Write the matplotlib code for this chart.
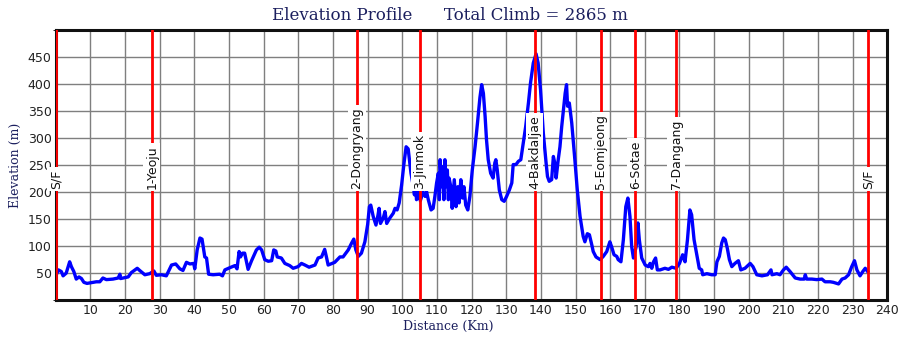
import matplotlib
matplotlib.use("Agg")
import matplotlib.pyplot as plt

# distance (km) and elevation (m)
dist = [0.0, 0.75, 1.6, 2.1, 3.0, 4.0, 4.5, 5.2, 5.9, 6.7, 7.4, 8.1, 9.0, 11.7, 12.7,
        13.6, 14.6, 16.5, 18.0, 18.5, 18.7, 20.9, 21.8, 23.5, 24.2, 25.7, 27.1, 28.3,
        29.0, 30.5, 31.9, 33.4, 34.6, 35.8, 36.7, 37.7, 38.7, 39.8, 40.1, 40.8, 41.6,
        42.2, 43.0, 43.5, 44.1, 45.4, 47.3, 48.1, 48.8, 50.2, 51.7, 52.3, 52.9, 53.3,
        53.9, 54.5, 55.5, 56.5, 57.9, 58.7, 59.4, 60.3, 61.3, 62.3, 62.9, 63.5, 63.9,
        65.1, 66.1, 67.5, 68.5, 69.9, 70.9, 71.9, 73.1, 74.8, 75.7, 76.7, 77.6, 78.1,
        78.6, 80.5, 82.0, 82.9, 84.4, 85.4, 86.0, 86.6, 87.3, 88.2, 89.2, 90.0, 90.5,
        90.9, 91.6, 92.4, 93.0, 93.3, 93.7, 94.5, 95.0, 95.5, 96.4, 97.4, 97.9, 98.5,
        99.1, 99.8, 100.5, 101.1, 101.7, 102.5, 103.2, 103.5, 103.8, 104.1, 104.6,
        105.2, 106.0, 106.6, 107.0, 107.5, 108.3, 108.9, 109.4, 109.9, 110.4, 110.7,
        110.9, 111.3, 111.6, 112.0, 112.3, 112.6, 113.0, 113.3, 113.5, 114.0, 114.4,
        115.0, 115.5, 116.0, 116.4, 116.9, 117.4, 117.8, 118.3, 118.9, 119.5, 120.2,
        121.0, 121.7, 122.4, 122.9, 123.4, 123.9, 124.3, 124.8, 125.5, 126.2, 126.7,
        127.0, 127.4, 128.0, 128.7, 129.4, 130.1, 130.9, 131.6, 132.0, 132.8, 133.5,
        134.2, 134.9, 135.6, 136.4, 137.0, 137.8, 138.6, 139.2, 139.9, 140.7, 141.5,
        141.9, 142.4, 143.1, 143.6, 144.1, 144.4, 145.0, 145.5, 146.0, 146.5, 147.0,
        147.4, 147.7, 148.2, 148.9, 149.8, 150.5, 151.3, 152.2, 152.7, 153.4, 154.0,
        154.7, 155.1, 155.9, 157.1, 158.0, 159.0, 159.9, 160.4, 161.1, 161.9, 162.3,
        163.1, 163.8, 164.5, 165.1, 165.7, 166.2, 166.7, 167.5, 168.0, 168.4, 169.1,
        170.1, 171.0, 171.5, 172.0, 172.5, 173.1, 173.6, 174.4, 175.8, 176.8, 177.8,
        179.0, 180.0, 180.9, 181.6, 182.3, 183.0, 183.5, 184.2, 185.0, 185.7, 186.4,
        186.7, 187.9, 189.3, 190.3, 190.8, 191.5, 192.2, 192.7, 193.2, 193.8, 194.4,
        195.1, 196.0, 197.0, 197.7, 198.9, 200.4, 201.2, 202.3, 203.8, 205.4, 206.4,
        206.7, 208.1, 209.0, 210.0, 210.8, 211.9, 213.4, 214.8, 216.0, 216.3, 216.7,
        218.2, 219.6, 221.1, 222.0, 223.5, 224.4, 225.9, 226.9, 227.8, 228.8, 229.7,
        230.5, 231.2, 232.1, 232.9, 233.6, 234.3]

elev = [45, 56, 53, 45, 50, 71, 62, 53, 39, 43, 40, 33, 31, 34, 34,
        41, 38, 39, 41, 48, 40, 43, 51, 59, 55, 47, 49, 54,
        46, 47, 45, 65, 67, 58, 55, 70, 67, 68, 58, 93, 115,
        113, 80, 78, 48, 47, 48, 45, 56, 60, 64, 58, 90, 80,
        87, 87, 57, 73, 93, 98, 93, 75, 72, 73, 93, 91, 80,
        78, 68, 64, 59, 62, 68, 65, 61, 65, 78, 80, 94, 80,
        65, 70, 80, 80, 93, 106, 113, 93, 81, 87, 108, 140, 173,
        176, 155, 139, 158, 170, 142, 152, 164, 142, 152, 161, 170, 167,
        180, 213, 254, 284, 280, 235, 210, 195, 213, 186, 200,
        184, 200, 192, 201, 186, 167, 170, 192, 217, 235, 186,
        260, 210, 247, 186, 260, 210, 241, 186, 226, 210, 170,
        223, 173, 210, 180, 223, 189, 210, 176, 167, 192, 241,
        284, 328, 375, 399, 383, 340, 297, 260, 235, 226, 254,
        260, 241, 204, 186, 183, 192, 204, 217, 251, 251, 257,
        260, 291, 321, 365, 402, 439, 456, 439, 389, 309, 254,
        229, 220, 223, 266, 251, 226, 260, 284, 321, 352, 383,
        399, 359, 365, 328, 260, 204, 155, 118, 108, 123, 121,
        102, 90, 80, 75, 81, 90, 108, 99, 84, 81, 75,
        71, 112, 173, 189, 155, 99, 78, 99, 143, 112, 78,
        65, 62, 68, 59, 71, 78, 56, 56, 59, 57, 61,
        59, 68, 84, 71, 112, 167, 158, 112, 84, 59, 56,
        47, 49, 47, 47, 71, 81, 106, 115, 112, 96, 75,
        62, 68, 73, 56, 59, 68, 62, 47, 45, 47, 56,
        47, 49, 47, 56, 61, 53, 41, 39, 39, 47, 39,
        39, 38, 39, 34, 34, 33, 30, 39, 41, 47, 62,
        73, 56, 45, 53, 59, 53]

stop_km = [0.0, 27.7, 86.9, 105.1, 138.2, 157.3, 167.2, 179.0, 234.4]
stop_names = ["S/F", "1-Yeoju", "2-Dongryang", "3-Jinmok", "4-Bakdaljae",
              "5-Eomjeong", "6-Sotae", "7-Dangang", "S/F"]

x_ticks = list(range(10, 250, 10))
y_ticks = list(range(50, 500, 50))

navy = "#1b1f5e"

fig = plt.figure(figsize=(9, 3.38), dpi=100)
ax = fig.add_axes([0.062, 0.112, 0.924, 0.799])
ax.set_xlim(0, 240)
ax.set_ylim(0, 500)

ax.set_xticks(x_ticks)
ax.set_yticks(y_ticks)
ax.set_yticks(list(range(0, 501, 50)), minor=True)
ax.grid(which="both", color="#7f7f7f", lw=1.0, zorder=0)
ax.tick_params(length=0, labelsize=9, colors="#222222", pad=3)
for s in ax.spines.values():
    s.set_linewidth(2.2)
    s.set_color("#111111")

ax.plot(dist, elev, color="#0000ff", lw=2.4, zorder=3)

for km, name in zip(stop_km, stop_names):
    ax.axvline(km, color="#ff0000", lw=2, zorder=4)
    ax.text(km, 206, name, rotation=90, ha="center", va="bottom", fontsize=9,
            color="#111111", zorder=5,
            bbox=dict(facecolor="white", edgecolor="none", pad=1.5))

fig.text(0.5, 0.955, "Elevation Profile      Total Climb = 2865 m", ha="center",
         va="center", fontsize=12, color=navy, family="DejaVu Serif")
fig.text(0.017, 0.51, "Elevation (m)", rotation=90, ha="center", va="center",
         fontsize=9, color=navy, family="DejaVu Serif")
fig.text(0.498, 0.035, "Distance (Km)", ha="center", va="center",
         fontsize=9, color=navy, family="DejaVu Serif")

fig.savefig("out.png", dpi=100)
